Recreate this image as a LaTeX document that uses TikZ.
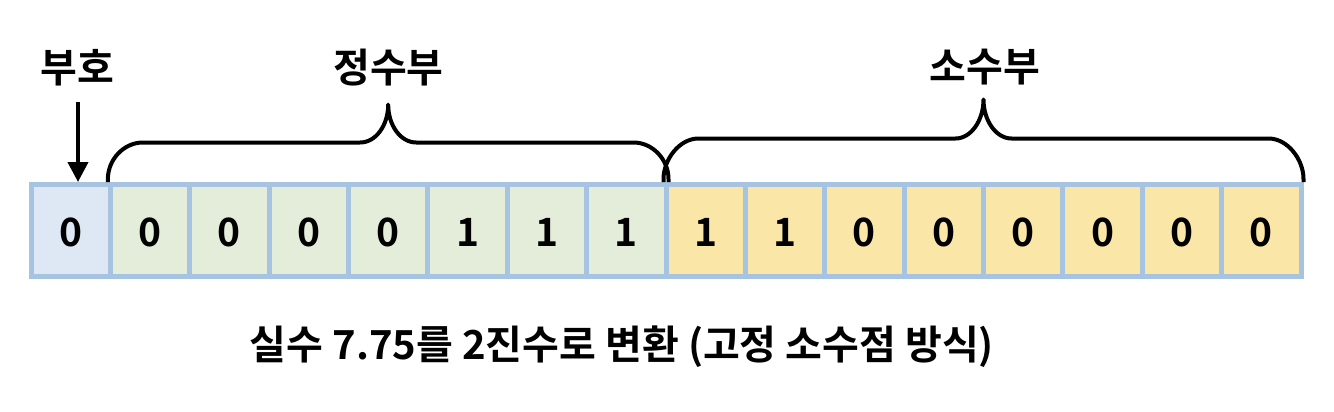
\documentclass[tikz,border=0pt]{standalone}
\usepackage{fontspec}
\setmainfont{Noto Sans CJK KR}[BoldFont={Noto Sans CJK KR Bold}]
\usetikzlibrary{calc,arrows.meta}
\definecolor{cellborder}{HTML}{A7C3E2}
\definecolor{signfill}{HTML}{DEE8F5}
\definecolor{intfill}{HTML}{E3EDDA}
\definecolor{fracfill}{HTML}{FAE6A6}
\tikzset{
  cell/.style={draw=cellborder, line width=5pt, minimum width=79.375pt, minimum height=92pt,
    inner sep=0pt, font=\fontsize{39}{44}\selectfont\bfseries, text depth=0pt},
  lbl/.style={font=\fontsize{40}{44}\selectfont\bfseries, inner sep=0pt},
  bracestyle/.style={draw=black, line width=4pt, line join=round},
  arr/.style={draw=black, line width=4pt, -{Triangle[length=20pt,width=20pt]}}
}
\newcommand\bracepath[4]{%
  \coordinate (bM) at ($(#1)!0.5!(#2)$);
  \draw[bracestyle] (#1) -- ++(0,-3)
    .. controls +(0,-19.3) and +(-19.3,0) .. ($(#1)+(35,-#3)$)
    -- ($(bM)+(-28,-#3)$)
    .. controls +(15.5,0) and +(0,21) .. ($(bM)+(0,-#4)$)
    .. controls +(0,21) and +(-15.5,0) .. ($(bM)+(28,-#3)$)
    -- ($(#2)+(-35,-#3)$)
    .. controls +(19.3,0) and +(0,-19.3) .. ($(#2)+(0,-3)$) -- (#2);
}
\begin{document}
\begin{tikzpicture}[x=1pt,y=-1pt]
\useasboundingbox (0,0) rectangle (1334,412);
\foreach \v [count=\i] in {0,0,0,0,0,1,1,1,1,1,0,0,0,0,0,0}{
  \ifnum\i=1 \def\fc{signfill}\else\ifnum\i<9 \def\fc{intfill}\else\def\fc{fracfill}\fi\fi
  \node[cell, fill=\fc] (c\i) at ({31+79.375*(\i-0.5)},230.5) {\raisebox{-3pt}{\v}};
}
\node[lbl] (sign) at (77.5,68) {부호};
\node[lbl] (intlbl) at (388.5,68) {정수부};
\node[lbl] (fraclbl) at (985,67) {소수부};
\coordinate (arrtop) at (78,102);
\coordinate (arrbot) at (78,182);
\draw[arr] (arrtop) -- (arrbot);
\bracepath{c2.north west}{c8.north east}{39.5}{77.5}
\bracepath{c9.north west}{c16.north east}{43.5}{82.5}
\node[lbl] (caption) at (622,347) {실수 7.75를 2진수로 변환 (고정 소수점 방식)};
\end{tikzpicture}
\end{document}
